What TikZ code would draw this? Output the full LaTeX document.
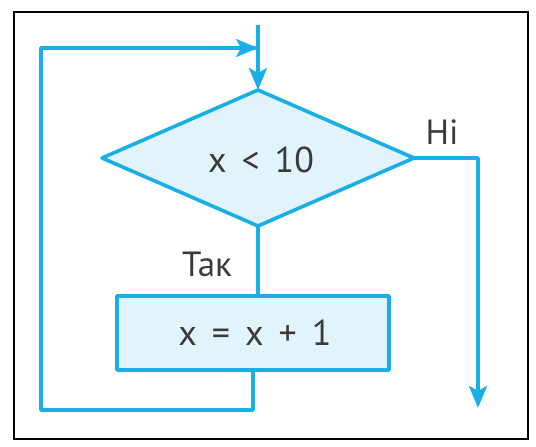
\documentclass[tikz,border=0pt]{standalone}
\usepackage{fontspec}
\setmainfont{PT Sans}
\usetikzlibrary{shapes.geometric,arrows.meta}
\definecolor{flowblue}{HTML}{1AAEE6}
\definecolor{flowfill}{HTML}{E1F4FC}
\definecolor{txt}{HTML}{3A3A3A}
\newcommand\opgap{\hspace{15pt}}
\begin{document}
\begin{tikzpicture}[x=1pt,y=-1pt,
  flow/.style={draw=flowblue,line width=3.6pt,line join=round},
  arr/.style={flow,-{Stealth[length=22pt,width=18pt,inset=5pt]}},
  decision/.style={diamond,flow,fill=flowfill,inner sep=0pt,outer sep=0pt,
    minimum width=312pt,minimum height=136pt,aspect=2.29},
  process/.style={rectangle,flow,fill=flowfill,inner sep=0pt,outer sep=0pt,
    minimum width=272pt,minimum height=74pt},
  lbl/.style={text=txt,font=\fontsize{35}{40}\selectfont,inner sep=0pt},
  expr/.style={lbl,font=\fontsize{36}{40}\selectfont}]
\useasboundingbox (0,0) rectangle (536,447);
\draw[black,line width=2.5pt] (14,12) rectangle (528,439);
\coordinate (start) at (258,25);
\node[decision] (cond) at (258,158) {};
\node[expr] (condt) at (261,160) {x\opgap<\opgap10};
\node[process] (body) at (253,333) {};
\node[expr] (bodyt) at (255,333) {x\opgap=\opgap x\opgap+\opgap1};
\node[lbl] (no) at (442,132) {Ні};
\node[lbl] (yes) at (207,264) {Так};
\coordinate (rt) at (478,158);
\coordinate (endp) at (478,408);
\coordinate (bl) at (41,410);
\coordinate (tl) at (41,48);
\coordinate (tr) at (258,48);
\coordinate (br) at (253,410);
\draw[arr] (start) -- (cond.north);
\draw[flow] (cond.south) -- (cond.south |- body.north);
\draw[flow] (body.south) -- (br) -- (bl) -- (tl) -- ([xshift=-1.9pt]tr);
\draw[arr] (tl) -- (tr);
\draw[arr] (cond.east) -- (rt) -- (endp);
\end{tikzpicture}
\end{document}
